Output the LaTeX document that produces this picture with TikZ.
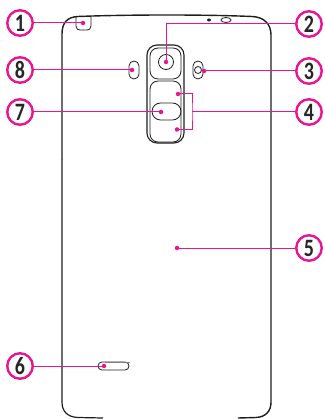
\documentclass[tikz,border=0pt]{standalone}
\usepackage{fontspec}
\setmainfont{Carlito}[FakeStretch=0.8]
\usetikzlibrary{shapes.misc, shapes.geometric, positioning}
\definecolor{callpink}{RGB}{232,20,145}
\definecolor{phoneline}{RGB}{30,30,30}
\tikzset{
  callnum/.style={draw=callpink,line width=2.4pt,circle,fill=white,minimum size=25.5pt,inner sep=0pt,text=black!85,font=\fontsize{25}{25}\selectfont\bfseries},
  pinkdot/.style={fill=callpink,circle,minimum size=4.5pt,inner sep=0pt},
  leader/.style={draw=callpink,line width=1pt},
  partline/.style={draw=phoneline,line width=0.8pt},
  capsule/.style={partline,rounded rectangle,inner sep=0pt}
}

\begin{document}
\begin{tikzpicture}[x=1pt,y=-1pt]
\useasboundingbox (0,0) rectangle (324,419);

% Phone outline
\draw[phoneline,line width=1.4pt] (62,160) -- (62,34) .. controls (62,23) and (67,17) .. (78,16.5)
  .. controls (130,14.5) and (205,14.5) .. (252,16.5) .. controls (264,17) and (271,24) .. (271,35) -- (271,402)
  .. controls (271,411) and (266,417) .. (256,417.5) -- (238,418);
\draw[phoneline,line width=1.2pt] (62,160) -- (62,402) .. controls (62,411) and (67,417) .. (78,417.5) -- (103,418);

% Top edge parts
\draw[partline] (76,17) -- (76,26) .. controls (76,29) and (78,30) .. (80,30) -- (87,30) .. controls (89,30) and (91,29) .. (91,26) -- (91,17);
\node[fill=phoneline,ellipse,minimum width=4pt,minimum height=3pt,inner sep=0pt] (micdot) at (209,20) {};
\node[partline,ellipse,minimum width=10pt,minimum height=5pt,inner sep=0pt] (topjack) at (226,20) {};

% Camera module
\node[partline,line width=1.1pt,rounded corners=10pt,minimum width=37pt,minimum height=98pt,inner sep=0pt] (module) at (165.5,94) {};
\node[partline,rounded corners=8pt,minimum width=31pt,minimum height=31pt,inner sep=0pt] (camplate) at (165.5,63.5) {};
\node[partline,rounded corners=8pt,minimum width=31pt,minimum height=61pt,inner sep=0pt] (keyplate) at (165.5,111.5) {};
\node[partline,circle,minimum size=15pt,inner sep=0pt] (lens) at (166,62) {};
\node[capsule,minimum width=29pt,minimum height=17pt] (homekey) at (166.5,111.5) {};

% Flash and mic
\node[capsule,rotate=90,minimum width=18pt,minimum height=10pt] (flash) at (198,70) {};
\node[partline,circle,minimum size=7pt,inner sep=0pt] (flashlens) at (198,70) {};
\node[capsule,rotate=90,minimum width=18pt,minimum height=10pt] (backmic) at (134,70) {};

% Speaker
\node[capsule,minimum width=31pt,minimum height=8pt] (speaker) at (113.5,366) {};
\draw[draw=gray,line width=1.2pt] (speaker.north west) ++(3,0.5) -- ++(25,0);

% Target dots
\node[pinkdot] (dota) at (83,23) {};
\node[pinkdot] (dotb) at (166,62) {};
\node[pinkdot] (dotc) at (204,71) {};
\node[pinkdot] (dotd) at (178,94) {};
\node[pinkdot] (dote) at (177,129.5) {};
\node[pinkdot] (dotf) at (177,248) {};
\node[pinkdot] (dotg) at (104,366) {};
\node[pinkdot] (doth) at (161,112) {};
\node[pinkdot] (doti) at (132,70) {};

% Numbers
\node[callnum] (numa) at (20,23) {1};
\node[callnum] (numb) at (309,24) {2};
\node[callnum] (numc) at (309,71) {3};
\node[callnum] (numd) at (309,112) {4};
\node[callnum] (nume) at (309,248) {5};
\node[callnum] (numf) at (20,366) {6};
\node[callnum] (numg) at (20,112) {7};
\node[callnum] (numh) at (20,70) {8};

% Leaders
\coordinate (bracket) at (192,112);
\draw[leader] (numa) -- (dota);
\draw[leader] (numb) -| (dotb);
\draw[leader] (numc) -- (dotc);
\draw[leader] (numd) -- (bracket);
\draw[leader] (dotd) -| (bracket) |- (dote);
\draw[leader] (nume) -- (dotf);
\draw[leader] (numf) -- (dotg);
\draw[leader] (numg) -- (doth);
\draw[leader] (numh) -- (doti);
\end{tikzpicture}
\end{document}
